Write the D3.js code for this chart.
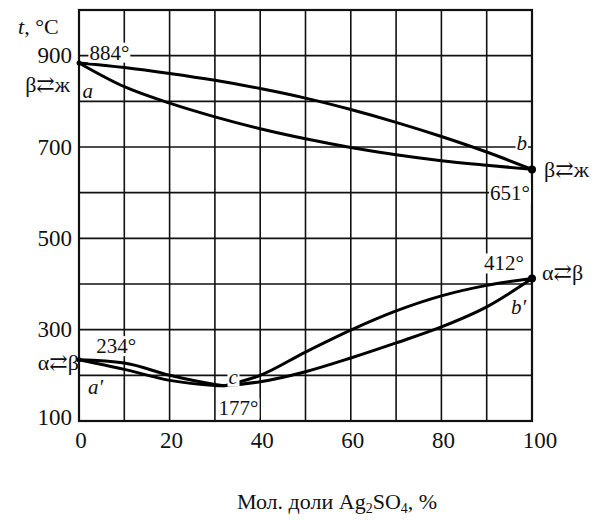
<!DOCTYPE html>
<html>
<head>
<meta charset="utf-8">
<script src="https://cdn.jsdelivr.net/npm/d3@7"></script>
<style>
body { margin: 0; background: #fff; }
text { font-family: "Liberation Serif", "DejaVu Serif", serif; fill: #111; }
</style>
</head>
<body>
<div id="chart"></div>
<script>
// composition, mol. % Ag2SO4
const xTicks = [0, 20, 40, 60, 80, 100];
const yTicks = [100, 300, 500, 700, 900];
const molPct = [0, 10, 20, 30, 40, 50, 60, 70, 80, 90, 100];

// upper lens (beta <-> liquid)
const liquidus = [884, 874, 861, 846, 828, 807, 782, 754, 723, 689, 651];
const solidus = [884, 832, 796, 766, 740, 718, 699, 683, 670, 660, 651];

// lower loop (alpha <-> beta), minimum c = 177 deg
const leftPct = [0, 10, 20, 30, 32];
const leftUpper = [234, 227, 200, 180, 177];
const leftLower = [234, 213, 189, 178, 177];
const rightPct = [32, 40, 50, 60, 70, 80, 90, 100];
const rightUpper = [177, 200, 251, 299, 341, 374, 397, 412];
const rightLower = [177, 186, 208, 238, 271, 306, 350, 412];

const width = 609, height = 522;
const plotL = 79, plotR = 532, plotT = 10, plotB = 421;

const svg = d3.select('#chart').append('svg')
    .attr('width', width)
    .attr('height', height);

const x = d3.scaleLinear().domain([0, 100]).range([plotL, plotR]);
const y = d3.scaleLinear().domain([100, 1000]).range([plotB, plotT]);

// grid
const grid = svg.append('g').attr('stroke', '#111').attr('stroke-width', 1.6);
grid.selectAll('.vg').data(d3.range(10, 100, 10)).enter().append('line')
    .attr('x1', d => x(d)).attr('x2', d => x(d))
    .attr('y1', plotT).attr('y2', plotB);
grid.selectAll('.hg').data(d3.range(200, 1000, 100)).enter().append('line')
    .attr('x1', plotL).attr('x2', plotR)
    .attr('y1', d => y(d)).attr('y2', d => y(d));
svg.append('rect')
    .attr('x', plotL).attr('y', plotT)
    .attr('width', plotR - plotL).attr('height', plotB - plotT)
    .attr('fill', 'none').attr('stroke', '#111').attr('stroke-width', 2.2);

// tick labels
svg.selectAll('.xl').data(xTicks).enter().append('text')
    .attr('x', d => x(d) + (d === 100 ? 8 : 2))
    .attr('y', plotB + 27)
    .attr('text-anchor', 'middle')
    .attr('font-size', 23)
    .text(d => d);
svg.selectAll('.yl').data(yTicks).enter().append('text')
    .attr('x', 72)
    .attr('y', d => y(d) + (d === 100 ? -4 : 0))
    .attr('dominant-baseline', 'central')
    .attr('text-anchor', 'end')
    .attr('font-size', 23)
    .text(d => d);

// curves
const line = d3.line().curve(d3.curveMonotoneX);
function curve(xs, ys) {
    svg.append('path')
        .attr('d', line(xs.map((v, i) => [x(v), y(ys[i])])))
        .attr('fill', 'none')
        .attr('stroke', '#000')
        .attr('stroke-width', 3);
}
curve(molPct, liquidus);
curve(molPct, solidus);
curve(leftPct, leftUpper);
curve(leftPct, leftLower);
curve(rightPct, rightUpper);
curve(rightPct, rightLower);

// end points
const dots = [[0, 884, 2.5], [0, 234, 2.5], [100, 651, 4], [100, 412, 4]];
svg.selectAll('.dot').data(dots).enter().append('circle')
    .attr('cx', d => x(d[0])).attr('cy', d => y(d[1])).attr('r', d => d[2])
    .attr('fill', '#000');

// labels with white knock-out behind
function label(px, py, txt, anchor, opts) {
    opts = opts || {};
    const t = svg.append('text')
        .attr('x', px).attr('y', py)
        .attr('text-anchor', anchor)
        .attr('dominant-baseline', 'central')
        .attr('font-size', opts.size || 21)
        .attr('font-style', opts.italic ? 'italic' : null)
        .text(txt);
    if (opts.bg) {
        const b = t.node().getBBox();
        svg.insert('rect', function () { return t.node(); })
            .attr('x', b.x - 1).attr('y', b.y + 2)
            .attr('width', b.width + 2).attr('height', b.height - 4)
            .attr('fill', '#fff');
    }
    return t;
}

label(x(2.3), y(900) - 3, '884°', 'start', { bg: true });
label(x(100) - 2, y(600), '651°', 'end', { bg: true });
label(x(100) - 8, y(445), '412°', 'end', { bg: true });
label(x(3.8), y(264), '234°', 'start', { bg: true });
label(x(30.8), y(128), '177°', 'start', { bg: true });

label(x(0.8), y(822), 'a', 'start', { italic: true });
label(x(100) - 5, y(709), 'b', 'end', { italic: true, bg: true });
label(x(100) - 6, y(350), 'b′', 'end', { italic: true });
label(x(2), y(174), 'a′', 'start', { italic: true });
label(x(33), y(197), 'c', 'start', { italic: true, bg: true });

label(x(100) + 12, y(651), 'β⇄ж', 'start', { size: 22 });
label(x(100) + 10, y(412) - 6, 'α⇄β', 'start', { size: 22 });
label(70, 84, 'β⇄ж', 'end', { size: 22 });
label(79, y(234) + 3, 'α⇄β', 'end', { size: 22 });

const yt = svg.append('text')
    .attr('x', 18).attr('y', 26)
    .attr('dominant-baseline', 'central')
    .attr('font-size', 22);
yt.append('tspan').attr('font-style', 'italic').text('t');
yt.append('tspan').text(', °C');

// axis title
const xt = svg.append('text')
    .attr('x', 337).attr('y', 509)
    .attr('text-anchor', 'middle')
    .attr('font-size', 22);
xt.append('tspan').text('Мол. доли Ag');
xt.append('tspan').attr('font-size', 14).attr('dy', 4).text('2');
xt.append('tspan').attr('dy', -4).text('SO');
xt.append('tspan').attr('font-size', 14).attr('dy', 4).text('4');
xt.append('tspan').attr('dy', -4).text(', %');
</script>
</body>
</html>
